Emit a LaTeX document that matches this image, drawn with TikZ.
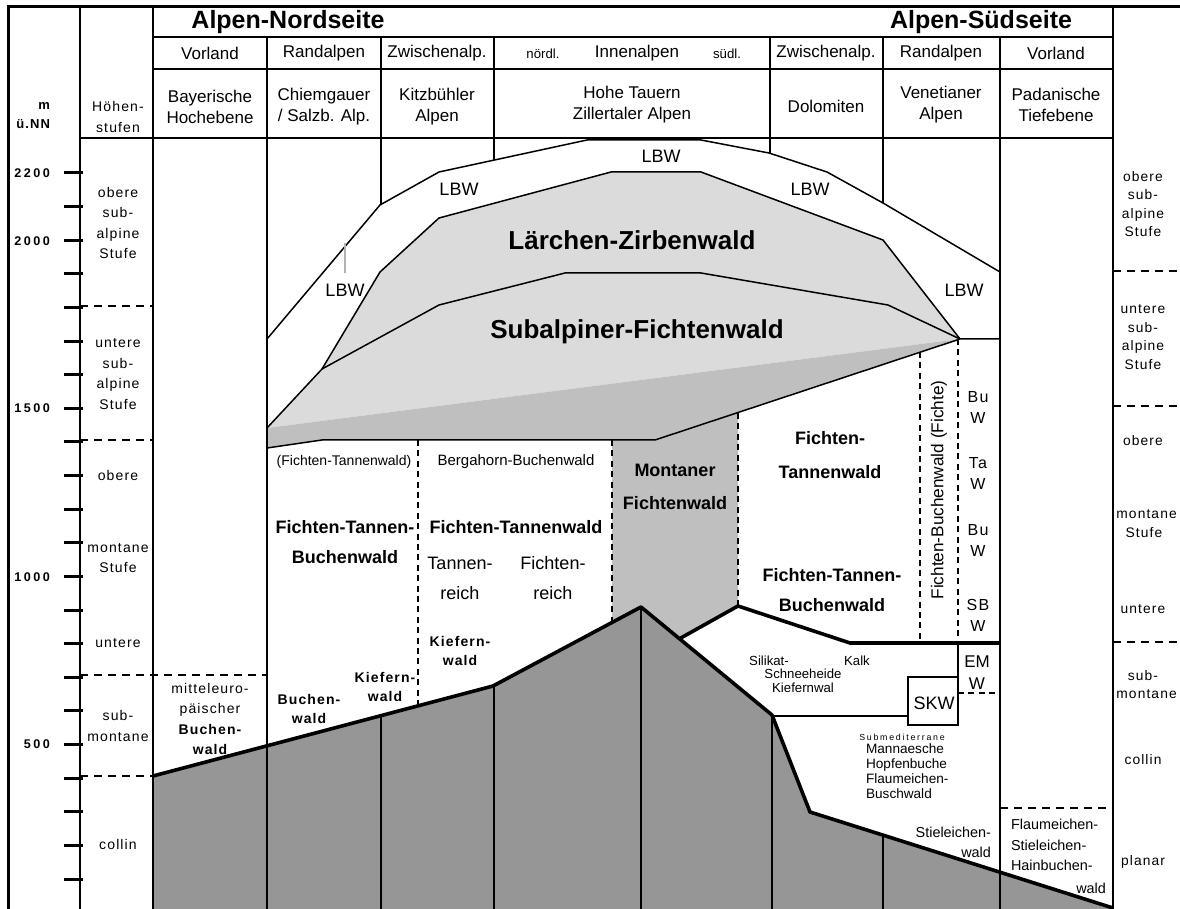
\documentclass[tikz,border=0pt]{standalone}
\usepackage{fontspec}
\setmainfont{Liberation Sans}
\newfontfamily\spaced{Liberation Sans}[LetterSpace=8]
\newfontfamily\wider{Liberation Sans}[LetterSpace=20]
\newcommand{\fsz}[2]{\fontsize{#1}{#2}\selectfont}
\definecolor{lightfill}{gray}{0.86}
\definecolor{midfill}{gray}{0.75}
\definecolor{groundfill}{gray}{0.59}

\begin{document}
\begin{tikzpicture}[x=0.5pt, y=-0.5pt,
    rule/.style={line width=0.75pt},
    heavy/.style={line width=1.8pt, line join=round},
    dashrule/.style={line width=0.9pt, dash pattern=on 4pt off 3pt},
    dotrule/.style={line width=0.75pt, dash pattern=on 3pt off 2.2pt},
    hdr/.style={font=\fsz{8.5}{10.5}, align=center},
    stufe/.style={font=\spaced\fsz{7}{10.2}, align=center},
    rstufe/.style={font=\spaced\fsz{6.9}{9.3}, align=center},
    wood/.style={font=\bfseries\fsz{9}{15}, align=center},
    small/.style={font=\fsz{6.6}{7.2}, align=center},
    sbold/.style={font=\spaced\bfseries\fsz{7}{9.8}, align=center},
    meter/.style={font=\wider\bfseries\fsz{6.3}{7}, anchor=east}]
\clip (0,0) rectangle (1180,909);
\fill[white] (0,0) rectangle (1180,909);

% Vegetation fills
\fill[lightfill] (267,428) -- (322,369) -- (380,272) -- (439,218) -- (611,172) -- (701,172)
    -- (883,240) -- (960,339) -- cycle;
\fill[midfill] (267,428) -- (960,339) -- (738,413) -- (738,606) -- (679,639) -- (641,607)
    -- (612,622) -- (612,440) -- (322,440) -- (267,448) -- cycle;
\fill[groundfill] (153,776) -- (493,686) -- (641,607) -- (772,715) -- (810,812) -- (1113,908)
    -- (1113,909) -- (153,909) -- cycle;

% Frame and columns
\draw[line width=1.5pt] (8,909) -- (8,7) -- (1180,7);
\draw[line width=1.2pt] (80,7) -- (80,909);
\draw[rule] (153,7) -- (153,909) (1113,7) -- (1113,909);
\draw[rule] (153,37) -- (1113,37) (153,69) -- (1113,69) (80,138) -- (1113,138);
\draw[rule] (267,37) -- (267,909) (1000,37) -- (1000,909);
\draw[rule] (381,37) -- (381,205) (494,37) -- (494,160) (770,37) -- (770,153) (883,37) -- (883,203);
\draw[rule] (381,716) -- (381,909) (494,686) -- (494,909) (641,607) -- (641,909)
    (772,715) -- (772,909) (883,835) -- (883,909);

% Altitude ticks
\foreach \k in {0,...,21}
    \draw[line width=1.5pt] (64,{173+33.62*\k}) -- (83,{173+33.62*\k});

% Forest belts
\draw[rule] (267,339) -- (380,205) -- (439,172) -- (587,140) -- (701,140) -- (769,153)
    -- (827,172) -- (883,203) -- (1000,272);
\draw[rule] (267,428) -- (322,369) -- (380,272) -- (439,218) -- (611,172) -- (701,172)
    -- (883,240) -- (960,339) -- (1000,339);
\draw[rule] (322,369) -- (439,305) -- (565,273) -- (701,273) -- (888,305) -- (960,339);
\draw[rule] (267,448) -- (322,440) -- (655,440) -- (960,339);
\draw[gray!60, line width=0.75pt] (345,243) -- (345,273);
\draw[dotrule] (418,440) -- (418,706) (612,440) -- (612,622) (738,413) -- (738,606);
\draw[dotrule] (920,352) -- (920,643) (958,339) -- (958,643) (958,693) -- (1000,693);
\draw[heavy] (153,776) -- (493,686) -- (641,607) -- (772,715) -- (810,812) -- (1113,908);
\draw[heavy] (679,639) -- (738,606) -- (850,643) -- (1000,643);
\draw[line width=1pt] (772,716) -- (908,716) (958,643) -- (958,677);
\draw[line width=1pt] (908,677) rectangle (958,725);

% Stufen boundaries
\draw[dashrule] (80,306) -- (153,306) (80,440) -- (153,440) (80,675) -- (267,675) (80,776) -- (153,776);
\draw[dashrule] (1113,271) -- (1180,271) (1113,406) -- (1180,406) (1113,642) -- (1180,642)
    (1000,808) -- (1113,808);

% Header
\node (nord) [font=\bfseries\fsz{12.5}{14}] at (288,22) {Alpen-Nordseite};
\node (sued) [font=\bfseries\fsz{12.5}{14}] at (981,22) {Alpen-Südseite};
\node (vorlandN) [hdr] at (210,53) {Vorland};
\node (randN) [hdr] at (324,53) {Randalpen};
\node (zwiN) [hdr] at (437,53) {Zwischenalp.};
\node (noerdl) [font=\fsz{6.6}{8}] at (543,54) {nördl.};
\node (innen) [hdr] at (637,53) {Innenalpen};
\node (suedl) [font=\fsz{6.6}{8}] at (727,54) {südl.};
\node (zwiS) [hdr] at (826,53) {Zwischenalp.};
\node (randS) [hdr] at (941,53) {Randalpen};
\node (vorlandS) [hdr] at (1056,53) {Vorland};
\node (bayern) [hdr] at (210,107) {Bayerische\\Hochebene};
\node (chiem) [hdr] at (324,107) {Chiemgauer\\/ Salzb. Alp.};
\node (kitz) [hdr] at (437,107) {Kitzbühler\\Alpen};
\node (tauern) [hdr] at (632,105) {Hohe Tauern\\Zillertaler Alpen};
\node (dolo) [hdr] at (826,106) {Dolomiten};
\node (venet) [hdr] at (941,105) {Venetianer\\Alpen};
\node (padan) [hdr] at (1056,105) {Padanische\\Tiefebene};
\node (mnn) [font=\spaced\bfseries\fsz{6.5}{9.5}, align=right, anchor=east] at (57,116) {m\\ü.NN};
\node (hoehen) [stufe] at (118,117) {Höhen-\\stufen};

% Altitude labels
\node (m2200) [meter] at (57,173) {2200};
\node (m2000) [meter] at (57,241) {2000};
\node (m1500) [meter] at (57,408) {1500};
\node (m1000) [meter] at (57,577) {1000};
\node (m500) [meter] at (57,744) {500};

% Stufen left
\node (lOSub) [stufe] at (118,223) {obere\\sub-\\alpine\\Stufe};
\node (lUSub) [stufe] at (118,374) {untere\\sub-\\alpine\\Stufe};
\node (lOMon) [stufe] at (118,475) {obere};
\node (lMon) [stufe] at (118,558) {montane\\Stufe};
\node (lUMon) [stufe] at (118,643) {untere};
\node (lSubMon) [stufe] at (118,726) {sub-\\montane};
\node (lCollin) [stufe] at (118,844) {collin};

% Stufen right
\node (rOSub) [rstufe] at (1143,204) {obere\\sub-\\alpine\\Stufe};
\node (rUSub) [rstufe] at (1143,337) {untere\\sub-\\alpine\\Stufe};
\node (rOMon) [rstufe] at (1143,441) {obere};
\node (rMon) [rstufe, inner sep=0pt, anchor=west] at (1116,514) {montane};
\node (rMonSt) [rstufe] at (1144,533) {Stufe};
\node (rUMon) [rstufe] at (1143,609) {untere};
\node (rSub) [rstufe] at (1143,676) {sub-};
\node (rSubMon) [rstufe, inner sep=0pt, anchor=west] at (1116,694) {montane};
\node (rCollin) [rstufe] at (1143,760) {collin};
\node (rPlanar) [rstufe] at (1143,862) {planar};

% Subalpine belt
\node (lbwTop) [font=\fsz{9}{10}] at (661,156) {LBW};
\node (lbwNW) [font=\fsz{9}{10}] at (459,189) {LBW};
\node (lbwNE) [font=\fsz{9}{10}] at (810,189) {LBW};
\node (lbwW) [font=\fsz{9}{10}] at (345,290) {LBW};
\node (lbwE) [font=\fsz{9}{10}] at (964,290) {LBW};
\node (laerche) [font=\bfseries\fsz{13}{15}] at (632,240) {Lärchen-Zirbenwald};
\node (subalp) [font=\bfseries\fsz{13}{15}] at (637,332) {Subalpiner-Fichtenwald};

% Montane belt, north
\node (ftKlammer) [font=\fsz{7}{8}] at (344,462) {(Fichten-Tannenwald)};
\node (bergahorn) [font=\fsz{7.5}{8}] at (516,462) {Bergahorn-Buchenwald};
\node (ftbN) [wood] at (345,542) {Fichten-Tannen-\\Buchenwald};
\node (ftwN) [wood] at (516,527) {Fichten-Tannenwald};
\node (tannreich) [font=\fsz{9}{15}, align=center] at (460,578) {Tannen-\\reich};
\node (fichtreich) [font=\fsz{9}{15}, align=center] at (553,578) {Fichten-\\reich};
\node (kiefer1) [sbold] at (460,651) {Kiefern-\\wald};
\node (kiefer2) [sbold] at (385,687) {Kiefern-\\wald};
\node (buche) [sbold] at (309,709) {Buchen-\\wald};
\node (mittel) [font=\spaced\fsz{7}{10.3}, align=center] at (210,719)
    {mitteleuro-\\päischer\\{\bfseries Buchen-}\\{\bfseries wald}};
\node (montaner) [font=\bfseries\fsz{9}{16.5}, align=center] at (675,487) {Montaner\\Fichtenwald};

% Montane belt, south
\node (ftwS) [font=\bfseries\fsz{9}{17}, align=center] at (830,455) {Fichten-\\Tannenwald};
\node (ftbS) [wood] at (832,590) {Fichten-Tannen-\\Buchenwald};
\node (fbFichte) [font=\fsz{8.6}{10}, rotate=90] at (939,490) {Fichten-Buchenwald (Fichte)};
\node (buw1) [font=\spaced\fsz{8}{10.5}, align=center] at (978,407) {Bu\\W};
\node (taw) [font=\spaced\fsz{8}{10.5}, align=center] at (978,473) {Ta\\W};
\node (buw2) [font=\spaced\fsz{8}{10.5}, align=center] at (978,540) {Bu\\W};
\node (sbw) [font=\spaced\fsz{8}{10.5}, align=center] at (978,615) {SB\\W};
\node (emw) [font=\fsz{8.5}{11}, align=center] at (977,673) {EM\\W};
\node (skw) [font=\fsz{9}{10}] at (934,703) {SKW};

% Lower belts, south
\node (silikat) [small] at (769,661) {Silikat-};
\node (kalk) [small] at (857,661) {Kalk};
\node (schnee) [small] at (803,681) {Schneeheide\\Kiefernwal};
\node (submed) [font=\wider\fsz{4.4}{5}] at (902,737) {Submediterrane};
\node (manna) [font=\fsz{6.8}{7.5}, align=left, anchor=west] at (859,771)
    {Mannaesche\\Hopfenbuche\\Flaumeichen-\\Buschwald};
\node (stiel) [font=\fsz{7.2}{10}, align=right, anchor=east] at (998,842) {Stieleichen-\\wald};
\node (flaum) [font=\fsz{7.2}{10.3}, align=left, anchor=west] at (1004,845)
    {Flaumeichen-\\Stieleichen-\\Hainbuchen-};
\node (flaumWald) [font=\fsz{7.2}{8}, anchor=east] at (1113,888) {wald};
\end{tikzpicture}
\end{document}
